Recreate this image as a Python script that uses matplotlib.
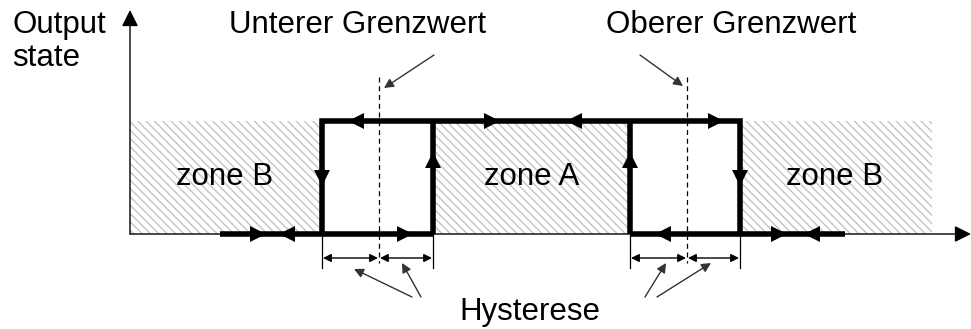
import matplotlib
matplotlib.use("Agg")
import matplotlib.pyplot as plt
from matplotlib.patches import Rectangle

plt.rcParams['font.family'] = ['Liberation Sans', 'DejaVu Sans']
plt.rcParams['hatch.linewidth'] = 1.0
plt.rcParams['hatch.color'] = '#c4c4c4'

# layout of the diagram in pixel units (y grows downwards)
y_low = 234
y_high = 121
zones = [("zone B", 130, 322), ("zone A", 433, 630), ("zone B", 740, 932)]
zone_label_x = [225, 532, 835]
thresholds = [379, 687]
switch_x = [322, 433, 630, 740]

# the thick state path
bottom_left_x = [220, 433]
bottom_right_x = [630, 845]

# direction markers on the path
marks_x = [258, 287, 405, 356, 492, 574, 716, 322, 433, 630, 740, 663, 779, 812]
marks_y = [y_low, y_low, y_low, y_high, y_high, y_high, y_high, 178, 160, 160, 178, y_low, y_low, y_low]
marks_dir = ['>', '<', '>', '<', '>', '<', '>', 'v', '^', '^', 'v', '<', '>', '<']

fs = 22.5

fig = plt.figure(figsize=(9.71, 3.29), dpi=100)
ax = fig.add_axes([0, 0, 1, 1])
ax.set_xlim(0, 971)
ax.set_ylim(329, 0)
ax.axis('off')

# hatched zones
for (name, x0, x1), lx in zip(zones, zone_label_x):
    ax.add_patch(Rectangle((x0, y_high), x1 - x0, y_low - y_high, fill=False,
                           hatch='\\\\\\\\', linewidth=0, edgecolor='#c4c4c4'))
    ax.text(lx, 185, name, fontsize=fs, ha='center', va='baseline')

# axes arrows
ax.annotate('', xy=(971, y_low), xytext=(130, y_low),
            arrowprops=dict(arrowstyle='-|>', color='black', lw=1, mutation_scale=25, shrinkA=0, shrinkB=0))
ax.annotate('', xy=(130, 10), xytext=(130, y_low),
            arrowprops=dict(arrowstyle='-|>', color='black', lw=1, mutation_scale=25, shrinkA=0, shrinkB=0))
ax.text(12, 33, "Output", fontsize=fs, va='baseline')
ax.text(12, 66, "state", fontsize=fs, va='baseline')

# threshold dashed lines
for tx in thresholds:
    ax.plot([tx, tx], [77, 263], color='black', lw=0.9, ls=(0, (4, 3)))

# thick path
ax.plot([322, 322, 740, 740], [y_low, y_high, y_high, y_low], color='black', lw=4, solid_capstyle='butt', solid_joinstyle='miter')
ax.plot([433, 433], [y_low, y_high], color='black', lw=4, solid_capstyle='butt')
ax.plot([630, 630], [y_low, y_high], color='black', lw=4, solid_capstyle='butt')
ax.plot(bottom_left_x, [y_low, y_low], color='black', lw=4, solid_capstyle='butt')
ax.plot(bottom_right_x, [y_low, y_low], color='black', lw=4, solid_capstyle='butt')
for mx, my, md in zip(marks_x, marks_y, marks_dir):
    ax.plot(mx, my, marker=md, color='black', markersize=12, markeredgewidth=0)

# hysteresis width markers
for sx in switch_x:
    ax.plot([sx, sx], [y_low, 268], color='black', lw=0.9)
for a, b in [(322, 379), (379, 433), (630, 687), (687, 740)]:
    ax.annotate('', xy=(b - 1, 258), xytext=(a + 1, 258),
                arrowprops=dict(arrowstyle='<|-|>', color='black', lw=1, mutation_scale=12, shrinkA=0, shrinkB=0))

# labels with pointer arrows
pointer = dict(arrowstyle='-|>', color='#333333', lw=1, mutation_scale=14, shrinkA=0, shrinkB=0)
ax.text(358, 33, "Unterer Grenzwert", fontsize=fs, ha='center', va='baseline')
ax.annotate('', xy=(384, 88), xytext=(434, 55), arrowprops=pointer)
ax.text(731, 33, "Oberer Grenzwert", fontsize=fs, ha='center', va='baseline')
ax.annotate('', xy=(683, 86), xytext=(640, 55), arrowprops=pointer)

ax.text(530, 320, "Hysterese", fontsize=fs, ha='center', va='baseline')
ax.annotate('', xy=(354, 269), xytext=(412, 297), arrowprops=pointer)
ax.annotate('', xy=(402, 263), xytext=(421, 297), arrowprops=pointer)
ax.annotate('', xy=(666, 263), xytext=(645, 297), arrowprops=pointer)
ax.annotate('', xy=(711, 263), xytext=(657, 297), arrowprops=pointer)

fig.savefig("out.png", dpi=100)
